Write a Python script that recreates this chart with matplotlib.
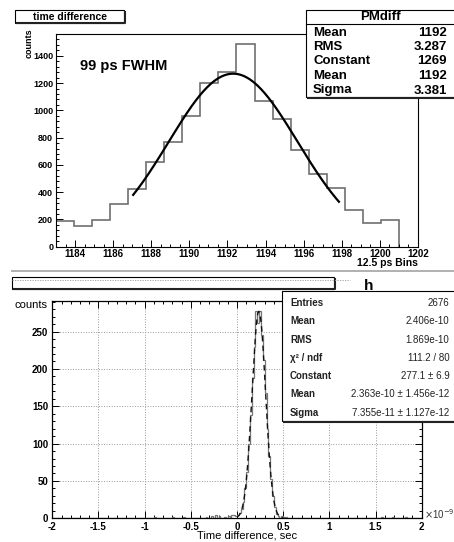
import matplotlib
matplotlib.use('Agg')
import matplotlib.pyplot as plt
from matplotlib.patches import Rectangle
from matplotlib.ticker import MultipleLocator
import numpy as np

plt.rcParams['font.family'] = ['Liberation Sans', 'DejaVu Sans']

# --- data: upper panel (12.5 ps bins) ---
top_edges = np.linspace(1183, 1201, 20)
top_counts = [185, 154, 198, 310, 420, 618, 770, 958, 1204, 1278,
              1486, 1065, 933, 708, 530, 432, 266, 171, 195]
fit_top = dict(const=1269, mean=1192.3, sigma=3.381, lo=1187.05, hi=1197.85)
top_stats = [('Mean', '1192'), ('RMS', '3.287'), ('Constant', '1269'),
             ('Mean', '1192'), ('Sigma', '3.381')]

# --- data: lower panel (time difference, units of 1e-9 s) ---
low_edges = np.linspace(-2, 2, 201)
peak_centers = [0.01, 0.03, 0.05, 0.07, 0.09, 0.11, 0.13, 0.15, 0.17, 0.19,
                0.21, 0.23, 0.25, 0.27, 0.29, 0.31, 0.33, 0.35, 0.37, 0.39,
                0.41, 0.43, 0.45, 0.47]
peak_counts = [4, 7, 12, 22, 40, 62, 100, 138, 188, 230,
               277, 262, 277, 246, 212, 168, 120, 84, 52, 30,
               15, 6, 3, 1]
tail_centers = [-1.79, -1.45, -1.21, -0.97, -0.89, -0.75, -0.69, -0.63, -0.57,
                -0.51, -0.43, -0.33, -0.27, -0.23, -0.19, -0.13, -0.09, -0.05,
                -0.03, -0.01, 0.49, 0.51, 0.53, 0.57, 0.63, 0.71, 0.83, 0.97,
                1.13, 1.29, 1.41, 1.57, 1.63, 1.69, 1.75, 1.83, 1.91]
tail_counts = [1, 1, 1, 1, 2, 1, 2, 1, 2, 1, 1, 2, 3, 4, 3, 2, 3, 5, 4, 3,
               3, 2, 2, 1, 1, 1, 1, 1, 1, 1, 1, 2, 1, 2, 1, 2, 1]
fit_low = dict(const=277.1, mean=0.2363, sigma=0.07355, lo=0.0, hi=0.5)
low_stats = [('Entries', '2676'), ('Mean', '2.406e-10'), ('RMS', '1.869e-10'),
             ('χ² / ndf', '111.2 / 80'), ('Constant', '277.1 ± 6.9'),
             ('Mean', '2.363e-10 ± 1.456e-12'), ('Sigma', '7.355e-11 ± 1.127e-12')]

W, H = 454, 542
fig = plt.figure(figsize=(W / 100, H / 100), dpi=100)


def rect(l, t, r, b):
    # pixel box -> figure fraction
    return [l / W, 1 - b / H, (r - l) / W, (b - t) / H]


def gauss(p, n=300):
    x = np.linspace(p['lo'], p['hi'], n)
    return x, p['const'] * np.exp(-0.5 * ((x - p['mean']) / p['sigma']) ** 2)


# ---------- upper panel ----------
ax1 = fig.add_axes(rect(56, 34, 418, 246.7))
ax1.stairs(top_counts, top_edges, color='#707070', lw=1.2)
fx, fy = gauss(fit_top)
ax1.plot(fx, fy, color='black', lw=1.6)
ax1.set_xlim(1183, 1202)
ax1.set_ylim(0, 1560)
ax1.xaxis.set_major_locator(MultipleLocator(2))
ax1.xaxis.set_minor_locator(MultipleLocator(0.5))
ax1.yaxis.set_major_locator(MultipleLocator(200))
ax1.yaxis.set_minor_locator(MultipleLocator(40))
ax1.tick_params(which='both', direction='in', top=False, right=False, width=0.7)
ax1.tick_params(which='major', length=5)
ax1.tick_params(which='minor', length=2.5)
ax1.tick_params(axis='x', labelsize=7, pad=2)
ax1.tick_params(axis='y', labelsize=6.5, pad=2)
for lab in ax1.get_xticklabels() + ax1.get_yticklabels():
    lab.set_fontweight('bold')
for s in ax1.spines.values():
    s.set_linewidth(0.8)

# ---------- lower panel ----------
ax2 = fig.add_axes(rect(52.3, 301, 421.7, 518.3))
ax2.hist(peak_centers + tail_centers, bins=low_edges,
         weights=peak_counts + tail_counts, histtype='step', color='#777777', lw=0.9)
gx, gy = gauss(fit_low)
ax2.plot(gx, gy, color='#111111', lw=1.0, ls=(0, (4, 3)))
ax2.set_xlim(-2, 2)
ax2.set_ylim(0, 291)
ax2.xaxis.set_major_locator(MultipleLocator(0.5))
ax2.xaxis.set_minor_locator(MultipleLocator(0.1))
ax2.yaxis.set_major_locator(MultipleLocator(50))
ax2.yaxis.set_minor_locator(MultipleLocator(10))
ax2.xaxis.set_major_formatter(lambda v, pos: f'{v:g}')
ax2.grid(True, which='major', color='#9a9a9a', ls=':', lw=0.7)
ax2.tick_params(which='both', direction='in', top=True, right=True, width=0.7)
ax2.tick_params(which='major', length=5)
ax2.tick_params(which='minor', length=2.5)
ax2.tick_params(labelsize=7, pad=3)
for lab in ax2.get_xticklabels() + ax2.get_yticklabels():
    lab.set_fontweight('bold')
for s in ax2.spines.values():
    s.set_linewidth(0.9)

# ---------- overlay for boxes and free text (pixel coords) ----------
ov = fig.add_axes([0, 0, 1, 1])
ov.set_xlim(0, W)
ov.set_ylim(H, 0)
ov.axis('off')
ov.set_zorder(10)
ov.patch.set_alpha(0)


def box(l, t, r, b, lw=0.8, shadow=1.5):
    ov.add_patch(Rectangle((l, t), r - l, b - t, facecolor='white',
                           edgecolor='black', lw=lw))
    ov.plot([l + 1, r + 0.5, r + 0.5], [b + 0.5, b + 0.5, t + 1],
            color='#222222', lw=shadow, solid_capstyle='butt')


# upper title box
box(15, 10, 124.3, 22.7)
ov.text(69.6, 16.5, 'time difference', ha='center', va='center',
        fontsize=7.5, fontweight='bold')

# FWHM annotation
ov.text(80, 66, '99 ps FWHM', ha='left', va='center', fontsize=10.5,
        fontweight='bold')

# axis labels, upper
ov.text(29, 43, 'counts', rotation=90, ha='center', va='center',
        fontsize=6.5, fontweight='bold')
ov.text(418, 263.5, '12.5 ps Bins', ha='right', va='center',
        fontsize=7.5, fontweight='bold')

# PMdiff stats box
box(306, 9.7, 456, 97)
ov.plot([306, 456], [24, 24], color='black', lw=0.8)
ov.text(380, 17, 'PMdiff', ha='center', va='center', fontsize=9.5,
        fontweight='bold')
for i, (k, v) in enumerate(top_stats):
    y = 32.5 + i * 14.5
    ov.text(313, y, k, ha='left', va='center', fontsize=9.5, fontweight='bold')
    ov.text(447, y, v, ha='right', va='center', fontsize=9.5, fontweight='bold')

# separator between the two images
ov.plot([11.7, 454], [271.3, 271.3], color='#b0b0b0', lw=1.4)

# lower (empty) title box
box(11.7, 277, 334.3, 288.7)
ov.plot([12, 350], [280.3, 280.3], color='#999999', lw=0.6, ls=(0, (1.5, 1.5)))
ov.text(369, 286, 'h', ha='center', va='center', fontsize=11,
        fontweight='bold')

# lower stats box
box(281.7, 290.5, 456, 421)
for i, (k, v) in enumerate(low_stats):
    y = 303.3 + i * 18.2
    ov.text(290, y, k, ha='left', va='center', fontsize=7, fontweight='bold',
            color='#222222')
    ov.text(449.3, y, v, ha='right', va='center', fontsize=7, color='#222222')

# axis labels, lower
ov.text(47.7, 305, 'counts', ha='right', va='center', fontsize=8)
ov.text(247, 536, 'Time difference, sec', ha='center', va='center', fontsize=8)
ov.text(424, 514, r'$\times$10$^{-9}$', ha='left', va='center', fontsize=7,
        color='#333333')

fig.savefig('out.png', dpi=100)
